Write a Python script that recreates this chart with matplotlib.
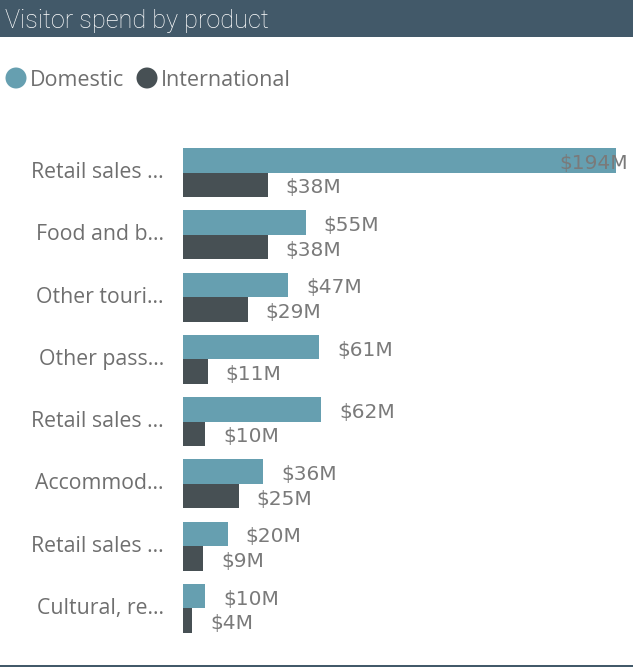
import matplotlib
matplotlib.use("Agg")
import matplotlib.pyplot as plt
from matplotlib.patches import Rectangle, Ellipse
import matplotlib.transforms as mtransforms

categories = ["Retail sales ...", "Food and b...", "Other touri...", "Other pass...",
              "Retail sales ...", "Accommod...", "Retail sales ...", "Cultural, re..."]
domestic = [194, 55, 47, 61, 62, 36, 20, 10]
international = [38, 38, 29, 11, 10, 25, 9, 4]
series_names = ["Domestic", "International"]

C_DOM = "#669fb0"
C_INT = "#475054"
C_BAR = "#425969"
C_TXT = "#6f6f6f"
C_VAL = "#7a7a7a"

W, H = 633, 671
fig = plt.figure(figsize=(W / 100, H / 100), dpi=100)
fig.patch.set_facecolor("white")

def fx(px):
    return px / W

def fy(py):
    return 1 - py / H

# title bar
fig.add_artist(Rectangle((0, fy(37)), 1, 37 / H, transform=fig.transFigure,
                         facecolor=C_BAR, edgecolor="none"))
fig.text(fx(5), fy(21), "Visitor spend by product", color="white",
         fontsize=18.2, family="Roboto", weight="light", va="center", ha="left")

# bottom line
fig.add_artist(Rectangle((0, fy(667)), 1, 2 / H, transform=fig.transFigure,
                         facecolor=C_BAR, edgecolor="none"))

# legend
lx = [16, 147]
for i, col in enumerate([C_DOM, C_INT]):
    fig.add_artist(Ellipse((fx(lx[i]), fy(78)), 21 / W, 21 / H, transform=fig.transFigure,
                           facecolor=col, edgecolor="none"))
fig.text(fx(30), fy(80), series_names[0], color=C_TXT, fontsize=15.5,
         family="Open Sans", va="center", ha="left")
fig.text(fx(161), fy(80), series_names[1], color=C_TXT, fontsize=15.5,
         family="Open Sans", va="center", ha="left")

# axes
top_px, bot_px = 141.5, 639.5
left_px = 183
scale = 2.232  # px per million
right_px = W
ax = fig.add_axes([fx(left_px), fy(bot_px), (right_px - left_px) / W, (bot_px - top_px) / H])
ax.set_xlim(0, (right_px - left_px) / scale)
n = len(categories)
ax.set_ylim(n - 0.5, -0.5)
ax.axis("off")

h = 24.4 / 62.25
ys = list(range(n))
ax.barh([y - h / 2 for y in ys], domestic, height=h, color=C_DOM)
ax.barh([y + h / 2 for y in ys], international, height=h, color=C_INT)

blend = mtransforms.blended_transform_factory(fig.transFigure, ax.transData)
down = mtransforms.ScaledTranslation(0, -3 / 100, fig.dpi_scale_trans)
for y, name, d, it in zip(ys, categories, domestic, international):
    fig.text(fx(164), y, name, color=C_TXT, fontsize=15.3, family="Open Sans",
             ha="right", va="center", transform=blend)
    for val, yy in ((d, y - h / 2), (it, y + h / 2)):
        end_px = left_px + val * scale
        txt = f"${val}M"
        if end_px + 18 + 70 > W:
            fig.text(fx(628), yy, txt, color=C_VAL, fontsize=14.5,
                     ha="right", va="center", family="DejaVu Sans",
                     transform=blend + down)
        else:
            ax.annotate(txt, (val, yy), xytext=(13, -2.2), textcoords="offset points",
                        color=C_VAL, fontsize=14.5, ha="left", va="center",
                        family="DejaVu Sans")

fig.savefig("out.png", dpi=100)
